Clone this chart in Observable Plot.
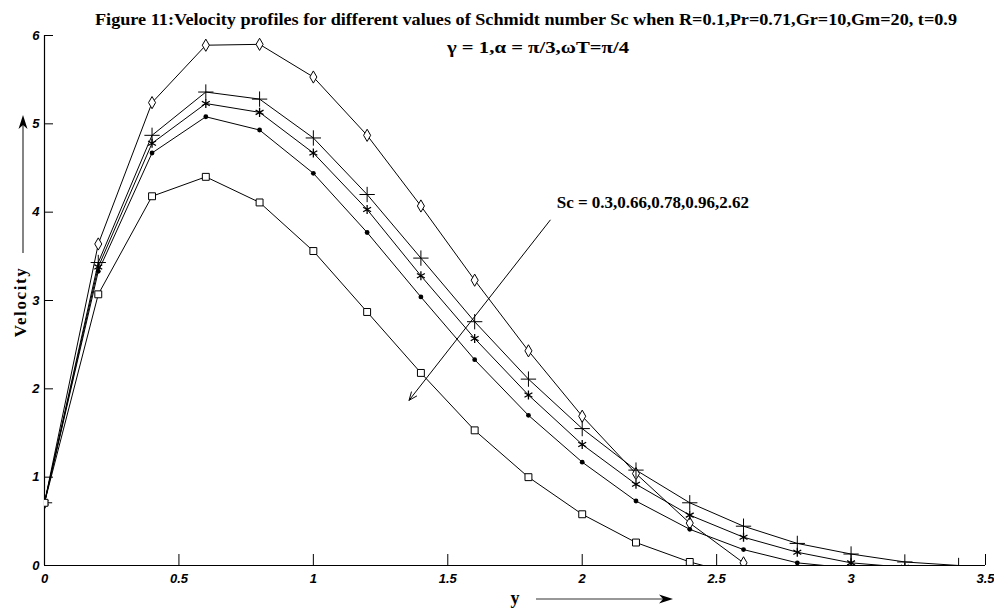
<!DOCTYPE html>
<html>
<head>
<meta charset="utf-8">
<script src="https://cdn.jsdelivr.net/npm/d3@7"></script>
<script src="https://cdn.jsdelivr.net/npm/@observablehq/plot@0.6"></script>
<style>
  body { margin: 0; background: #fff; }
  #wrap { position: relative; width: 994px; height: 612px; overflow: hidden; background: #fff; }
  #wrap > svg.overlay { position: absolute; left: 0; top: 0; pointer-events: none; }
  #chart { position: absolute; left: 0; top: 0; }
</style>
</head>
<body>
<div id="wrap"><div id="chart"></div></div>
<script>
// ---- data ----
const yPos = [0, 0.2, 0.4, 0.6, 0.8, 1.0, 1.2, 1.4, 1.6, 1.8, 2.0, 2.2, 2.4, 2.6, 2.8, 3.0, 3.2, 3.4];
const scValues = ["0.3", "0.66", "0.78", "0.96", "2.62"];
const velSc030 = [0.71, 3.64, 5.24, 5.89, 5.90, 5.53, 4.87, 4.07, 3.23, 2.43, 1.69, 1.04, 0.48, 0.03];
const velSc066 = [0.71, 3.43, 4.87, 5.36, 5.28, 4.84, 4.20, 3.48, 2.76, 2.11, 1.55, 1.08, 0.71, 0.445, 0.25, 0.13, 0.04, 0.0];
const velSc078 = [0.71, 3.38, 4.78, 5.23, 5.13, 4.67, 4.03, 3.28, 2.57, 1.93, 1.37, 0.92, 0.57, 0.32, 0.15, 0.03, -0.02];
const velSc096 = [0.71, 3.33, 4.67, 5.08, 4.93, 4.44, 3.77, 3.04, 2.33, 1.70, 1.17, 0.73, 0.41, 0.18, 0.03, -0.03];
const velSc262 = [0.71, 3.07, 4.18, 4.40, 4.11, 3.56, 2.87, 2.18, 1.53, 1.00, 0.58, 0.26, 0.04, -0.12];
const xTicks = [0, 0.5, 1, 1.5, 2, 2.5, 3, 3.5];
const yTicks = [0, 1, 2, 3, 4, 5, 6];
const titleText = "Figure 11:Velocity profiles for different values of Schmidt number Sc when R=0.1,Pr=0.71,Gr=10,Gm=20, t=0.9";
const subtitleText = "\u03b3 = 1,\u03b1 = \u03c0/3,\u03c9T=\u03c0/4";
const yLabelText = "Velocity";
const xLabelText = "y";
const annotText = "Sc = 0.3,0.66,0.78,0.96,2.62";
const annotPos = [{x: 1.905, y: 4.11}];
const annotArrow = [{x1: 1.881, y1: 3.91, x2: 1.356, y2: 1.87}];

// ---- build table ----
const seriesList = [
  {sc: scValues[0], vals: velSc030},
  {sc: scValues[1], vals: velSc066},
  {sc: scValues[2], vals: velSc078},
  {sc: scValues[3], vals: velSc096},
  {sc: scValues[4], vals: velSc262}
];
const rows = seriesList.flatMap(s => s.vals.map((v, i) => ({x: yPos[i], v, sc: s.sc})));
const of = sc => rows.filter(r => r.sc === sc);

const W = 994, H = 612;
const mL = 44, mR = 9, mT = 35, mB = 47;
const frameW = W - mL - mR, frameH = H - mT - mB;
const tickFont = {fontFamily: "'Liberation Sans', Arial, sans-serif", fontWeight: "bold", fontStyle: "italic", fontSize: 13};
const serif = "'Liberation Serif', 'Times New Roman', serif";

const chart = Plot.plot({
  width: W, height: H,
  marginLeft: mL, marginRight: mR, marginTop: mT, marginBottom: mB,
  style: {background: "white", color: "black", overflow: "visible"},
  x: {domain: [0, 3.5]},
  y: {domain: [0, 6]},
  marks: [
    // axis lines
    Plot.ruleX([0], {stroke: "black", strokeWidth: 1.2}),
    Plot.ruleY([0], {stroke: "black", strokeWidth: 1.2}),
    // inward ticks
    Plot.ruleX(xTicks, {x: d => d, insetTop: frameH - 11, stroke: "black", strokeWidth: 1}),
    Plot.ruleY(yTicks, {y: d => d, insetRight: frameW - 9, stroke: "black", strokeWidth: 1}),
    // tick labels
    Plot.axisX({ticks: xTicks, tickSize: 0, tickPadding: 8, tickFormat: d => String(d), label: null, ...tickFont}),
    Plot.axisY({ticks: yTicks, tickSize: 0, tickPadding: 5, tickFormat: d => String(d), label: null, ...tickFont}),
    // curves
    Plot.line(rows, {x: "x", y: "v", z: "sc", stroke: "black", strokeWidth: 1, clip: true}),
    Plot.dot(of(scValues[0]), {x: "x", y: "v", symbol: "diamond", r: 3.7, fill: "white", stroke: "black", strokeWidth: 1, clip: true}),
    Plot.dot(of(scValues[1]), {x: "x", y: "v", symbol: "plus", r: 5, stroke: "black", strokeWidth: 1, clip: true}),
    Plot.dot(of(scValues[2]), {x: "x", y: "v", symbol: "asterisk", r: 4.3, stroke: "black", strokeWidth: 1.3, clip: true}),
    Plot.dot(of(scValues[3]), {x: "x", y: "v", symbol: "circle", r: 2.4, fill: "black", stroke: "none", clip: true}),
    Plot.dot(of(scValues[4]), {x: "x", y: "v", symbol: "square", r: 3.9, fill: "white", stroke: "black", strokeWidth: 1, clip: true}),
    // annotation
    Plot.arrow(annotArrow, {x1: "x1", y1: "y1", x2: "x2", y2: "y2", stroke: "black", strokeWidth: 1, headLength: 13, headAngle: 45}),
    Plot.text(annotPos, {x: "x", y: "y", text: () => annotText, textAnchor: "start", fontFamily: serif, fontWeight: "bold", fontSize: 17, fill: "black"})
  ]
});
document.getElementById("chart").appendChild(chart);

// ---- titles and axis labels (decorations outside the frame) ----
const ns = "http://www.w3.org/2000/svg";
const ov = document.createElementNS(ns, "svg");
ov.setAttribute("class", "overlay");
ov.setAttribute("width", W); ov.setAttribute("height", H);
function addText(txt, attrs) {
  const t = document.createElementNS(ns, "text");
  for (const k in attrs) t.setAttribute(k, attrs[k]);
  t.textContent = txt;
  ov.appendChild(t);
  return t;
}
function addEl(tag, attrs) {
  const e = document.createElementNS(ns, tag);
  for (const k in attrs) e.setAttribute(k, attrs[k]);
  ov.appendChild(e);
  return e;
}
const base = {"font-family": serif, "font-weight": "bold", fill: "black"};
addText(titleText, {...base, x: 526, y: 25, "text-anchor": "middle", "font-size": 17, textLength: 862, lengthAdjust: "spacingAndGlyphs"});
addText(subtitleText, {...base, x: 538, y: 53, "text-anchor": "middle", "font-size": 17.5, textLength: 182, lengthAdjust: "spacingAndGlyphs"});
addText(yLabelText, {...base, "text-anchor": "middle", "font-size": 17, "letter-spacing": 1.6, transform: "translate(26,302) rotate(-90)"});
addText(xLabelText, {...base, x: 515, y: 604, "text-anchor": "middle", "font-size": 18});
// vertical arrow beside "Velocity"
addEl("line", {x1: 23, y1: 253, x2: 23, y2: 124, stroke: "#333", "stroke-width": 1.2});
addEl("polygon", {points: "23,115 18.5,129 23,125 27.5,129", fill: "black"});
// horizontal arrow beside "y"
addEl("line", {x1: 536, y1: 599, x2: 664, y2: 599, stroke: "#333", "stroke-width": 1.2});
addEl("polygon", {points: "673,599 659,594.5 663,599 659,603.5", fill: "black"});
document.getElementById("wrap").appendChild(ov);
</script>
</body>
</html>
